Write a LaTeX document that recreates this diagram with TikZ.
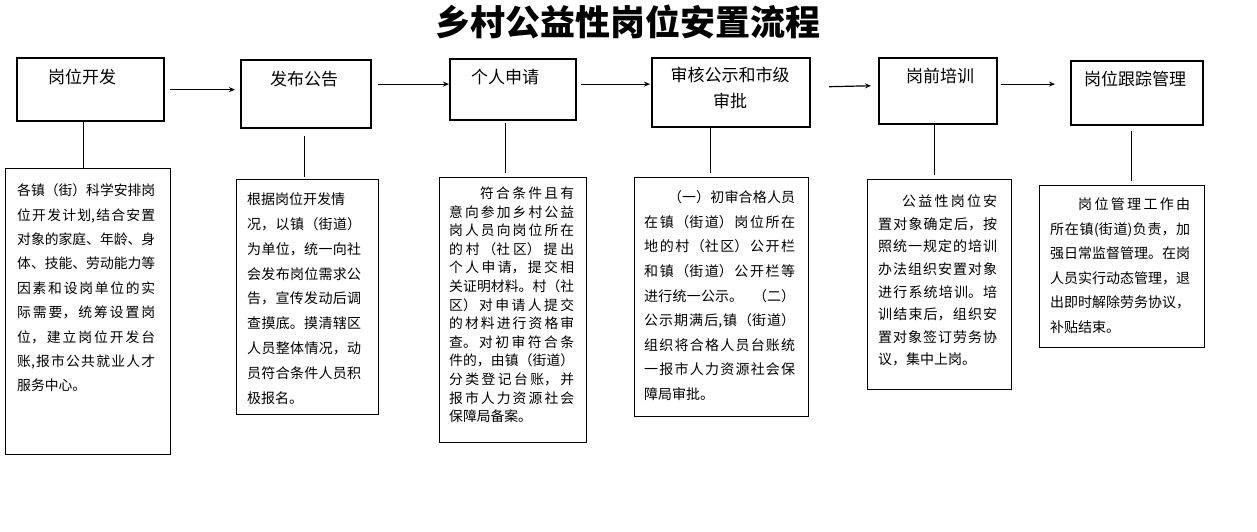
\documentclass[tikz,border=0pt]{standalone}
\usepackage{fontspec}
\setmainfont{Noto Sans CJK SC}
\usetikzlibrary{arrows.meta}
\XeTeXlinebreaklocale "zh"
\XeTeXlinebreakskip=0pt plus 1fil minus 0.5pt
\newcommand\mysetpar{\parindent=0pt\parfillskip=0pt plus 1fill\lineskiplimit=-100pt\lineskip=0pt\emergencystretch=0pt}
\newcommand\myend{\hfill\null}
\begin{document}
\begin{tikzpicture}[x=1pt,y=-1pt,
  topbox/.style={draw, line width=2.2pt, anchor=north west, inner sep=0pt},
  descbox/.style={draw, line width=1.3pt, anchor=north west, inner sep=0pt},
  toplabel/.style={inner sep=0pt, font=\fontsize{17}{26}\selectfont, align=center},
  desc/.style={anchor=north west, inner sep=0pt, align=justify},
  conn/.style={line width=1.2pt},
  arr/.style={line width=1.2pt, -{Stealth[length=6pt,width=5pt]}}]
\useasboundingbox[fill=white] (0,0) rectangle (1257,531);

% title
\node[inner sep=0pt, font=\fontsize{35}{40}\selectfont\bfseries] (title) at (628,22) {乡村公益性岗位安置流程};

% top boxes
\node[topbox, minimum width=147pt, minimum height=63pt] (t1) at (16,57) {};
\node[topbox, minimum width=130pt, minimum height=68pt] (t2) at (240,59) {};
\node[topbox, minimum width=126pt, minimum height=61pt] (t3) at (449,58) {};
\node[topbox, minimum width=158pt, minimum height=69pt] (t4) at (651,57) {};
\node[topbox, minimum width=118pt, minimum height=66pt] (t5) at (878,57) {};
\node[topbox, minimum width=132pt, minimum height=64pt] (t6) at (1070,60) {};

\node[toplabel] (l1) at (82,77) {岗位开发};
\node[toplabel] (l2) at (304,79) {发布公告};
\node[toplabel] (l3) at (505,77) {个人申请};
\node[toplabel] (l4) at (730,88) {审核公示和市级\\审批};
\node[toplabel] (l5) at (940,76) {岗前培训};
\node[toplabel] (l6) at (1135,79) {岗位跟踪管理};

% arrows
\draw[arr, shorten <=5pt, shorten >=5pt] (t1.east) -- (t1.east -| t2.west);
\draw[arr, shorten <=6pt, shorten >=0pt] ([yshift=10pt]t2.east) -- ([yshift=10pt]t2.east -| t3.west);
\draw[arr, shorten <=4pt, shorten >=1pt] ([yshift=5.5pt]t3.east) -- ([yshift=5.5pt]t3.east -| t4.west);
\draw[arr, shorten <=18pt, shorten >=7pt] ([yshift=5.5pt]t4.east) -- ([yshift=7pt]t4.east -| t5.west);
\draw[arr, shorten <=3pt, shorten >=15pt] ([yshift=7pt]t5.east) -- ([yshift=7pt]t5.east -| t6.west);

% bottom boxes
\node[descbox, minimum width=165pt, minimum height=286pt] (b1) at (5,168) {};
\node[descbox, minimum width=142pt, minimum height=235pt] (b2) at (236,179) {};
\node[descbox, minimum width=147pt, minimum height=265pt] (b3) at (439,177) {};
\node[descbox, minimum width=174pt, minimum height=239pt] (b4) at (634,177) {};
\node[descbox, minimum width=144pt, minimum height=210pt] (b5) at (867,179) {};
\node[descbox, minimum width=165pt, minimum height=162pt] (b6) at (1039,185) {};

% vertical connectors
\draw[conn] ([xshift=-7.5pt]t1.south) -- ([xshift=-7.5pt]t1.south |- b1.north);
\draw[conn, shorten <=7pt, shorten >=2pt] ([xshift=-2pt]t2.south) -- ([xshift=-2pt]t2.south |- b2.north);
\draw[conn, shorten <=2pt, shorten >=4pt] ([xshift=-8pt]t3.south) -- ([xshift=-8pt]t3.south |- b3.north);
\draw[conn, shorten >=4pt] ([xshift=-21pt]t4.south) -- ([xshift=-21pt]t4.south |- b4.north);
\draw[conn, shorten >=4pt] ([xshift=-4pt]t5.south) -- ([xshift=-4pt]t5.south |- b5.north);
\draw[conn, shorten <=5pt, shorten >=4pt] ([xshift=-6pt]t6.south) -- ([xshift=-6pt]t6.south |- b6.north);

% descriptions
\node[desc, text width=138pt, font=\fontsize{13.8}{24.4}\selectfont] (d1) at (17,183.6) {\mysetpar
各镇（街）科学安排岗\break
位开发计划,结合安置\break
对象的家庭、年龄、身\break
体、技能、劳动能力等\break
因素和设岗单位的实\break
际需要，统筹设置岗\break
位，建立岗位开发台\break
账,报市公共就业人才\break
服务中心。\myend};

\node[desc, text width=114pt, font=\fontsize{14}{24.8}\selectfont] (d2) at (247,192.6) {\mysetpar
根据岗位开发情\hfill\break
况，以镇（街道）\break
为单位，统一向社\break
会发布岗位需求公\break
告，宣传发动后调\break
查摸底。摸清辖区\break
人员整体情况，动\break
员符合条件人员积\break
极报名。\myend};

\node[desc, text width=125pt, font=\fontsize{13.8}{18.6}\selectfont] (d3) at (449,186.6) {\mysetpar
\hspace*{31pt}符合条件且有\break
意向参加乡村公益\break
岗人员向岗位所在\break
的村（社区）提出\break
个人申请，提交相\break
关证明材料。村（社\break
区）对申请人提交\break
的材料进行资格审\break
查。对初审符合条\break
件的，由镇（街道）\break
分类登记台账，并\break
报市人力资源社会\break
保障局备案。\myend};

\node[desc, text width=151pt, font=\fontsize{14}{24.6}\selectfont] (d4) at (644,190.6) {\mysetpar
\hspace*{24pt}（一）初审合格人员\break
在镇（街道）岗位所在\break
地的村（社区）公开栏\break
和镇（街道）公开栏等\break
进行统一公示。\hspace{10pt}（二）\break
公示期满后,镇（街道）\break
组织将合格人员台账统\break
一报市人力资源社会保\break
障局审批。\myend};

\node[desc, text width=119pt, font=\fontsize{14}{22.6}\selectfont] (d5) at (878,194.6) {\mysetpar
\hspace*{24pt}公益性岗位安\break
置对象确定后，按\break
照统一规定的培训\break
办法组织安置对象\break
进行系统培训。培\break
训结束后，组织安\break
置对象签订劳务协\break
议，集中上岗。\myend};

\node[desc, text width=140pt, font=\fontsize{14}{24.5}\selectfont] (d6) at (1050,197.6) {\mysetpar
\hspace*{28pt}岗位管理工作由\break
所在镇(街道)负责，加\break
强日常监督管理。在岗\break
人员实行动态管理，退\break
出即时解除劳务协议，\break
补贴结束。\myend};
\end{tikzpicture}
\end{document}
